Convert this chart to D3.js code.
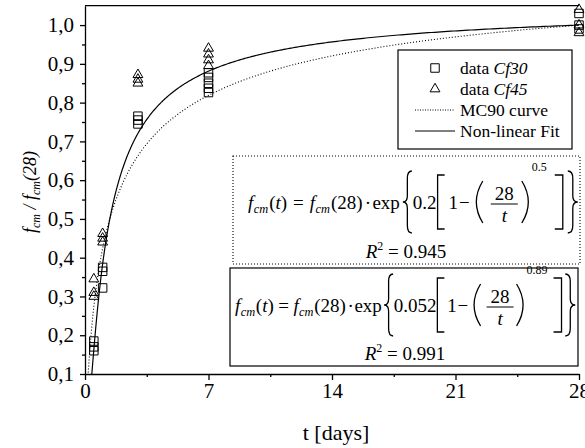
<!DOCTYPE html>
<html>
<head>
<meta charset="utf-8">
<script src="https://cdn.jsdelivr.net/npm/d3@7"></script>
</head>
<body style="margin:0;background:#fff">
<svg id="strength-plot" width="585" height="448" style="display:block"></svg>
<script>
// Test ages (days) and relative strength f_cm(t)/f_cm(28)
const cf30Age   = [0.5, 0.5, 0.5, 1, 1, 1, 3, 3, 3, 7, 7, 7, 7, 7, 28, 28, 28];
const cf30Ratio = [0.185, 0.17, 0.16, 0.375, 0.365, 0.322, 0.765, 0.755, 0.745,
                   0.877, 0.865, 0.85, 0.837, 0.826, 1.03, 1.0, 0.99];
const cf45Age   = [0.5, 0.5, 0.5, 1, 1, 1, 3, 3, 3, 7, 7, 7, 7, 28, 28, 28];
const cf45Ratio = [0.345, 0.31, 0.30, 0.462, 0.45, 0.44, 0.872, 0.86, 0.85,
                   0.94, 0.925, 0.91, 0.895, 1.04, 1.0, 0.98];

// f_cm(t) = f_cm(28)·exp{s[1-(28/t)^n]} : [s, n] and R²
const mc90Coef = [0.2, 0.5];
const fitCoef  = [0.052, 0.89];
const mc90R2 = 0.945;
const fitR2  = 0.991;

const xTicks      = [0, 7, 14, 21, 28];
const xMinorTicks = [3.5, 10.5, 17.5, 24.5];
const yTicks      = [0.1, 0.2, 0.3, 0.4, 0.5, 0.6, 0.7, 0.8, 0.9, 1.0];
const yMinorTicks = [0.15, 0.25, 0.35, 0.45, 0.55, 0.65, 0.75, 0.85, 0.95];
const legendLabels = [["data ", "Cf30"], ["data ", "Cf45"], ["MC90 curve", ""], ["Non-linear Fit", ""]];

const SERIF = "Liberation Serif, Times New Roman, Times, Tinos, serif";
// advance widths (per 1000 em) of the Times-metric serif face
const ADV = { "0": 500, "1": 500, "2": 500, "3": 500, "4": 500, "5": 500, "6": 500, "7": 500, "8": 500, "9": 500,
  ".": 250, ",": 250, "(": 333, ")": 333, "=": 564, "·": 250, "e": 444, "x": 500, "p": 500,
  "−": 564, " ": 250, "f": 278, "t": 278, "c": 444, "m": 722 };
const textWidth = (s, fs) => Array.from(s).reduce((a, ch) => a + (ADV[ch] || 500), 0) * fs / 1000;

const svg = d3.select("#strength-plot").attr("font-family", SERIF);
const x = d3.scaleLinear().domain([0, 28]).range([85, 579]);
const y = d3.scaleLinear().domain([0.1, 1.05]).range([374, 5.7]);
const comma = d3.formatLocale({ decimal: ",", thousands: ".", grouping: [3], currency: ["", ""] }).format(".1f");

// clip region for the curves
svg.append("defs").append("clipPath").attr("id", "plot-area")
  .append("rect").attr("x", x(0)).attr("y", y(1.05) - 6)
  .attr("width", x(28) - x(0) + 6).attr("height", y(0.1) - y(1.05) + 6);

// ---- axes ----
const gx = svg.append("g").attr("transform", `translate(0,${y(0.1)})`)
  .call(d3.axisBottom(x).tickValues(xTicks).tickSize(6).tickSizeOuter(0).tickPadding(3));
gx.attr("font-family", SERIF).selectAll("text").attr("font-size", 21);
svg.append("g").attr("transform", `translate(0,${y(0.1)})`)
  .call(d3.axisBottom(x).tickValues(xMinorTicks).tickSize(3).tickSizeOuter(0).tickFormat(""))
  .select(".domain").remove();

const gy = svg.append("g").attr("transform", `translate(${x(0)},0)`)
  .call(d3.axisLeft(y).tickValues(yTicks).tickSize(5).tickSizeOuter(0).tickPadding(6).tickFormat(comma));
gy.attr("font-family", SERIF).selectAll("text").attr("font-size", 21);
svg.append("g").attr("transform", `translate(${x(0)},0)`)
  .call(d3.axisLeft(y).tickValues(yMinorTicks).tickSize(3).tickSizeOuter(0).tickFormat(""))
  .select(".domain").remove();
svg.selectAll(".domain, .tick line").attr("stroke", "#000").attr("stroke-width", 1.3);
svg.selectAll(".tick text").attr("fill", "#000");

// frame line along the top
svg.append("line").attr("x1", x(0)).attr("x2", x(28)).attr("y1", y(1.05)).attr("y2", y(1.05))
  .attr("stroke", "#000").attr("stroke-width", 1.3);

// axis titles
svg.append("text").attr("x", (x(0) + x(28)) / 2 + 4).attr("y", 440)
  .attr("text-anchor", "middle").attr("font-size", 22).text("t [days]");

const yl = svg.append("text").attr("transform", "translate(36,192) rotate(-90)")
  .attr("text-anchor", "middle").attr("font-size", 18).attr("font-style", "italic");
yl.append("tspan").text("f");
yl.append("tspan").attr("font-size", 12).attr("dy", 4).text("cm");
yl.append("tspan").attr("dy", -4).text(" / ");
yl.append("tspan").text("f");
yl.append("tspan").attr("font-size", 12).attr("dy", 4).text("cm");
yl.append("tspan").attr("dy", -4).text("(28)");

// ---- curves ----
const strength = (c) => (t) => Math.exp(c[0] * (1 - Math.pow(28 / t, c[1])));
const tGrid = d3.range(0, 600).map(i => 0.12 * Math.pow(28 / 0.12, i / 599));
const line = d3.line().x(d => x(d[0])).y(d => y(d[1]));
const curves = svg.append("g").attr("clip-path", "url(#plot-area)");
curves.append("path").datum(tGrid.map(t => [t, strength(mc90Coef)(t)]))
  .attr("d", line).attr("fill", "none").attr("stroke", "#000")
  .attr("stroke-width", 1.1).attr("stroke-dasharray", "1,2");
curves.append("path").datum(tGrid.map(t => [t, strength(fitCoef)(t)]))
  .attr("d", line).attr("fill", "none").attr("stroke", "#000").attr("stroke-width", 1.2);

// ---- data points ----
const sq = d3.symbol(d3.symbolSquare, 72);
const tri = d3.symbol(d3.symbolTriangle, 42);
svg.append("g").selectAll("path").data(d3.zip(cf30Age, cf30Ratio)).join("path")
  .attr("d", sq).attr("transform", d => `translate(${x(d[0])},${y(d[1])})`)
  .attr("fill", "none").attr("stroke", "#000").attr("stroke-width", 1);
svg.append("g").selectAll("path").data(d3.zip(cf45Age, cf45Ratio)).join("path")
  .attr("d", tri).attr("transform", d => `translate(${x(d[0])},${y(d[1])})`)
  .attr("fill", "none").attr("stroke", "#000").attr("stroke-width", 1);

// ---- legend ----
const lg = svg.append("g");
lg.append("rect").attr("x", 398).attr("y", 50).attr("width", 174).attr("height", 99)
  .attr("fill", "#fff").attr("stroke", "#000").attr("stroke-width", 1.2);
legendLabels.forEach((lab, i) => {
  const cy = 68 + i * 21;
  if (i === 0) lg.append("path").attr("d", sq).attr("transform", `translate(435,${cy})`)
    .attr("fill", "none").attr("stroke", "#000");
  if (i === 1) lg.append("path").attr("d", tri).attr("transform", `translate(435,${cy})`)
    .attr("fill", "none").attr("stroke", "#000");
  if (i === 2) lg.append("line").attr("x1", 415).attr("x2", 455).attr("y1", cy).attr("y2", cy)
    .attr("stroke", "#000").attr("stroke-dasharray", "1,1.5").attr("stroke-width", 1);
  if (i === 3) lg.append("line").attr("x1", 415).attr("x2", 455).attr("y1", cy).attr("y2", cy)
    .attr("stroke", "#000").attr("stroke-width", 1.2);
  const t = lg.append("text").attr("x", 460).attr("y", cy + 6).attr("font-size", 17.5);
  t.append("tspan").text(lab[0]);
  if (lab[1]) t.append("tspan").attr("font-style", "italic").text(lab[1]);
});

// ---- equation boxes ----
function delim(g, kind, side, cx, cy, h, w) {
  const top = cy - h / 2, bot = cy + h / 2;
  const l = cx - w / 2, r = cx + w / 2;
  let d;
  const m = side === "l" ? 1 : -1;
  const a = side === "l" ? r : l, b = side === "l" ? l : r;
  if (kind === "paren") {
    d = `M${a},${top} Q${b - m * 3},${cy} ${a},${bot}`;
  } else if (kind === "bracket") {
    d = `M${a},${top} H${b} V${bot} H${a}`;
  } else {
    d = `M${a},${top} Q${cx},${top} ${cx},${top + h * 0.12} L${cx},${cy - h * 0.1} Q${cx},${cy} ${b},${cy}` +
        ` Q${cx},${cy} ${cx},${cy + h * 0.1} L${cx},${bot - h * 0.12} Q${cx},${bot} ${a},${bot}`;
  }
  g.append("path").attr("d", d).attr("fill", "none").attr("stroke", "#000").attr("stroke-width", 1.3);
}

function equation(g, x0, axisY, coef, fs, gap) {
  const base = axisY + fs * 0.25;
  const sub = fs * 0.65, sup = fs * 0.63;
  const items = [
    { k: "t", s: "f", it: 1 }, { k: "sub", s: "cm", pre: 0.5 },
    { k: "t", s: "(", pre: 1 }, { k: "t", s: "t", it: 1 }, { k: "t", s: ")" },
    { k: "t", s: "=", pre: 6 },
    { k: "t", s: "f", it: 1, pre: 6 }, { k: "sub", s: "cm", pre: 0.5 },
    { k: "t", s: "(28)", pre: 1 },
    { k: "t", s: "·", pre: 2 },
    { k: "t", s: "exp", pre: 3 },
    { k: "brace", side: "l", w: 9, h: 62, pre: 3 },
    { k: "t", s: String(coef[0]), pre: 1 },
    { k: "bracket", side: "l", w: 7, h: 54, pre: 1 },
    { k: "t", s: "1", pre: 4 },
    { k: "t", s: "−", pre: 1 },
    { k: "paren", side: "l", w: 10, h: 42, pre: 3 },
    { k: "frac", num: "28", den: "t", pre: 8 },
    { k: "paren", side: "r", w: 10, h: 42, pre: 4 },
    { k: "sup", s: String(coef[1]), pre: 0 },
    { k: "bracket", side: "r", w: 8, h: 54, pre: 8 },
    { k: "brace", side: "r", w: 10, h: 62, pre: 5 }
  ];
  let cx = x0;
  items.forEach(it => {
    cx += (it.pre || 0) * gap;
    if (it.k === "t" || it.k === "sub" || it.k === "sup") {
      const size = it.k === "t" ? fs : it.k === "sub" ? sub : sup;
      const yy = it.k === "t" ? base : it.k === "sub" ? base + 4 : axisY - 33;
      g.append("text").attr("x", cx).attr("y", yy).attr("font-size", size)
        .attr("font-style", it.it || it.k === "sub" ? "italic" : "normal").text(it.s);
      cx += textWidth(it.s, size);
    } else if (it.k === "frac") {
      const w = Math.max(textWidth(it.num, fs), textWidth(it.den, fs)) + 8;
      g.append("text").attr("x", cx + w / 2).attr("y", axisY - 4).attr("text-anchor", "middle")
        .attr("font-size", fs).text(it.num);
      g.append("text").attr("x", cx + w / 2).attr("y", axisY + 18).attr("text-anchor", "middle")
        .attr("font-size", fs).attr("font-style", "italic").text(it.den);
      g.append("line").attr("x1", cx).attr("x2", cx + w).attr("y1", axisY).attr("y2", axisY)
        .attr("stroke", "#000").attr("stroke-width", 1);
      cx += w;
    } else {
      delim(g, it.k, it.side, cx + it.w / 2, axisY - 2, it.h, it.w);
      cx += it.w;
    }
  });
}

function r2Label(g, cx, by, val, fs) {
  const t = g.append("text").attr("x", cx).attr("y", by).attr("text-anchor", "middle")
    .attr("font-size", fs);
  t.append("tspan").attr("font-style", "italic").text("R");
  t.append("tspan").attr("font-size", fs * 0.63).attr("dy", -8).text("2");
  t.append("tspan").attr("dy", 8).text(" = " + val.toFixed(3));
}

const eqA = svg.append("g");
eqA.append("rect").attr("x", 233).attr("y", 156).attr("width", 347).attr("height", 108)
  .attr("fill", "#fff").attr("stroke", "#000").attr("stroke-width", 1.1).attr("stroke-dasharray", "1,2");
equation(eqA, 248, 204, mc90Coef, 19, 1);
r2Label(eqA, 406, 258, mc90R2, 19);

const eqB = svg.append("g");
eqB.append("rect").attr("x", 230).attr("y", 268).attr("width", 348).attr("height", 98)
  .attr("fill", "#fff").attr("stroke", "#000").attr("stroke-width", 1.2);
equation(eqB, 235, 307, fitCoef, 19, 0.75);
r2Label(eqB, 405, 360, fitR2, 19);

// serif face on every label
svg.selectAll("text").attr("font-family", SERIF);
</script>
</body>
</html>
